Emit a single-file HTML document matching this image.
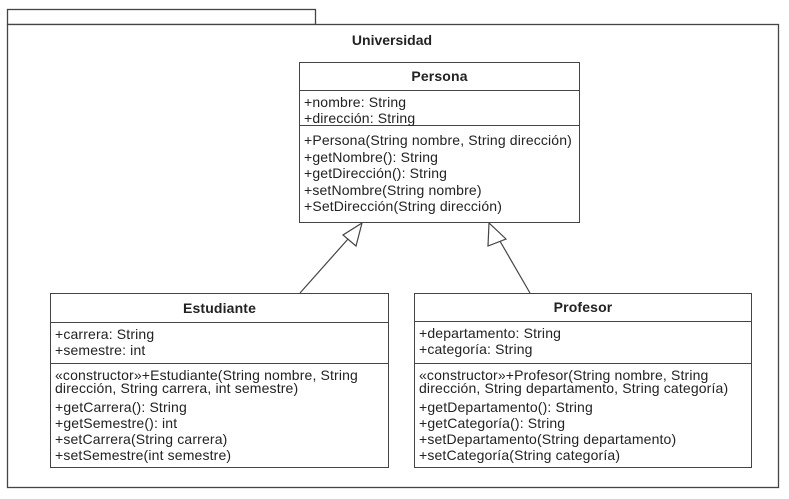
<!DOCTYPE html>
<html><head><meta charset="utf-8"><style>
body{margin:0;background:#fff;width:789px;height:499px;overflow:hidden;font-family:"Liberation Sans",sans-serif;}
svg{position:absolute;left:0;top:0}
.box{position:absolute;border:1.3px solid #444;background:#fff;box-sizing:border-box;color:#222;font-size:14px;letter-spacing:0.15px}
.h{font-weight:bold;text-align:center;font-size:14px;border-bottom:1.3px solid #444;}
.s{padding:3px 4px 2px;line-height:16.3px;border-bottom:1.3px solid #444;white-space:nowrap;box-sizing:border-box}
.s:last-child{border-bottom:none}
</style></head><body>
<svg width="789" height="499">
<rect x="7.5" y="9.5" width="308" height="15" fill="#fff" stroke="#444" stroke-width="1.3"/>
<rect x="7.5" y="24.5" width="771" height="463" fill="#fff" stroke="#444" stroke-width="1.3"/>
<text x="392" y="45" font-family="Liberation Sans" font-weight="bold" font-size="14" text-anchor="middle" fill="#222">Universidad</text>
<line x1="300" y1="293" x2="356" y2="230" stroke="#444" stroke-width="1.2"/>
<polygon points="362,223 343,235 356,246" fill="#fff" stroke="#444" stroke-width="1.2"/>
<line x1="530" y1="293" x2="497" y2="236" stroke="#444" stroke-width="1.2"/>
<polygon points="489,223 488,246 506,239" fill="#fff" stroke="#444" stroke-width="1.2"/>
</svg>
<div class="box" style="left:299px;top:62px;width:281px;height:161px">
<div class="h" style="height:27px;line-height:27px">Persona</div>
<div class="s" style="height:35px">+nombre: String<br>+dirección: String</div>
<div class="s" style="padding-top:6px;line-height:16.5px">+Persona(String nombre, String dirección)<br>+getNombre(): String<br>+getDirección(): String<br>+setNombre(String nombre)<br>+SetDirección(String dirección)</div>
</div>
<div class="box" style="left:50px;top:293px;width:339px;height:175px">
<div class="h" style="height:28px;line-height:28px">Estudiante</div>
<div class="s" style="height:41px">+carrera: String<br>+semestre: int</div>
<div class="s" style="line-height:16px">«constructor»+Estudiante(String nombre, String<br><span style="position:relative;top:-3px">dirección, String carrera, int semestre)</span><br>+getCarrera(): String<br>+getSemestre(): int<br>+setCarrera(String carrera)<br>+setSemestre(int semestre)</div>
</div>
<div class="box" style="left:414px;top:293px;width:338px;height:175px">
<div class="h" style="height:27px;line-height:27px">Profesor</div>
<div class="s" style="height:42px">+departamento: String<br>+categoría: String</div>
<div class="s" style="line-height:16px">«constructor»+Profesor(String nombre, String<br><span style="position:relative;top:-3px">dirección, String departamento, String categoría)</span><br>+getDepartamento(): String<br>+getCategoría(): String<br>+setDepartamento(String departamento)<br>+setCategoría(String categoría)</div>
</div>
</body></html>
